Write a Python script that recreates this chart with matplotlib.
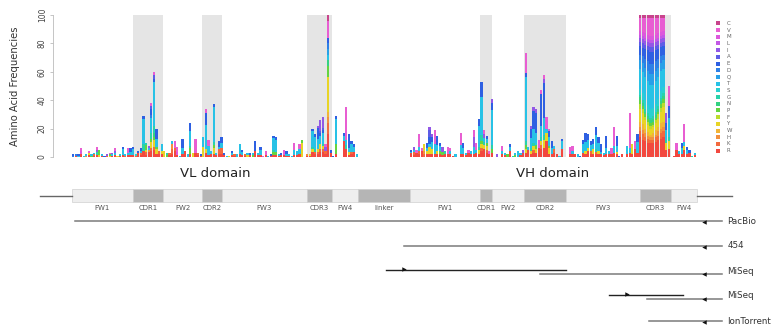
import re
import numpy as np
import matplotlib
matplotlib.use("Agg")
import matplotlib.pyplot as plt
from matplotlib.patches import Rectangle

# ---------------- data ----------------
# stacking order bottom -> top (legend shows it top -> bottom)
residues = ["R", "K", "H", "W", "Y", "F", "P", "N", "G", "S",
            "T", "Q", "D", "E", "A", "I", "L", "M", "V", "C"]
residue_colors = ["#f2483f", "#f26a3e", "#f2903e", "#f2b436", "#e8d426",
                  "#bcdc2c", "#64d440", "#34d282", "#28d2aa", "#28d0d0",
                  "#28c2e6", "#28a0e8", "#2e80e6", "#2e60e2", "#5e5ce6",
                  "#9258e6", "#c258e6", "#dc58dc", "#e85ed2", "#c8448c"]

# VL domain: total frequency per position and composition (residue + weight)
vl_heights = [2, 2, 2, 6, 1, 2, 4, 2, 3, 7, 5, 2, 1, 2, 3, 3, 6, 1, 2, 7, 2, 6, 6,
              7, 2, 4, 6, 29, 10, 8, 38, 60, 20, 4, 9,
              4, 3, 3, 11, 11, 7, 1, 13, 4, 2, 24, 3, 13, 3, 2,
              14, 34, 12, 4, 37, 3, 11, 14,
              3, 1, 1, 4, 2, 2, 9, 5, 2, 3, 3, 3, 11, 3, 7, 1, 4, 1, 2, 15,
              14, 2, 3, 5, 4, 2, 1, 10, 4, 9, 12, 0,
              2, 2, 20, 16, 22, 26, 28, 9, 100, 5,
              1, 29, 0, 0, 17, 35, 16, 11, 9, 2]
vl_comp = ["ED", "RD", "TE", "RMV", "S", "HT", "RYV", "PT", "RKT", "RGIV",
           "YPP", "RT", "E", "KI", "YPV", "RTI", "RTIV", "Y", "RS", "RT3E",
           "KT", "RTV2", "RT2E2",
           "RT3E", "KS", "R2E", "RKTE", "R2G2T8E", "RKYP2G", "R2HTI",
           "R2KY2PG2T5E2DAV", "R2KY2PNG2T13EAV", "RY2PT3E4", "RK", "RYT2",
           "Y", "PG", "RK", "RK2H2T", "R2KV2", "RMV2", "T", "RT2E3", "R", "T",
           "RP2GT5E3", "Y", "RV4", "RK", "RE",
           "Y3T3", "RYT6E3V", "RT4V3", "RT", "RY2PGT12E", "RT", "RK2TE2", "RK2T2E2",
           "RE", "T", "Y", "RTE", "RK", "T", "RT3", "RTE", "KR", "YT",
           "RE", "PT", "R2E3", "RT", "RT2E", "V", "RV2", "T", "RE", "RPGT5E",
           "RPT5E", "RT", "RE", "RV2", "RTE2", "RT", "T", "RT2V3", "RT2", "RT2V2",
           "Y4P", "",
           "RH", "RY", "R2YGT6E", "RKGT5E", "RKYT4E4I", "R2KY2T3EAI4",
           "R2KYGT4EAI4", "RKIV", "R4K2HWY6P2NTQEDV3C", "RE",
           "E", "RP3T8E", "", "", "R6T2E", "R2GTV8", "RYT2E6", "RKT3E", "R2T2E", "T"]

# VH domain
vh_heights = [5, 7, 5, 16, 6, 9, 10, 21, 16, 19,
              15, 10, 7, 4, 7, 6, 1, 2, 0, 17,
              10, 3, 5, 4, 19, 10, 27, 53, 19, 15,
              4, 41, 0, 2, 0, 8, 3, 2, 9, 1,
              3, 4, 3, 5, 73, 7, 22, 35, 34, 12,
              47, 58, 28, 20, 11, 8, 2, 1, 13, 0,
              0, 7, 8, 2, 2, 1, 12, 17, 16, 11,
              13, 21, 14, 9, 3, 15, 4, 6, 21, 15,
              1, 2, 0, 8, 31, 9, 11, 16, 100, 100,
              100, 100, 100, 100, 100, 100, 100, 100, 31, 50,
              0, 1, 10, 4, 10, 23, 7, 5, 1, 3]
vh_comp = ["R2TE", "RKTI", "RV", "RKTV4", "R2V", "KHY2", "RYTE2", "RY2TE2IA2", "RY2T3E2I", "RT3V4",
           "RYT2E3", "RPT2E", "RPI2", "RG", "RV2", "RTV", "R", "T", "", "RT3V4",
           "RT2E2", "RT", "RV", "RT", "RT2I3V2", "RTV2", "RYGT6E2", "R2KYPG2T12E5", "R2YGTIV", "RKYPTE",
           "RV", "RPGT9E2I", "", "I", "", "RTV2", "RT", "P", "R2TE", "G",
           "PT", "T2", "RT", "RI", "RYPGT16EV5", "R3T", "RYGT3E3I", "RKYGT4E5I", "RYPT3E5I", "R2V2",
           "R2KYGT3E8V", "R2Y2GT4E8IV", "R4Y2TV3", "RY2PT3E2V", "RT2E2", "RKT", "R", "T", "R3T3E", "",
           "", "RV2", "RTV2", "R", "T", "E", "RT2E", "RYT3E3", "R2YT3E2", "RKT2E",
           "RY2T2E2", "RKGT5E3", "RYT3E2", "RTE3", "RT", "RT2E4", "RT", "RV2", "RT2V5", "RYT2E4",
           "E", "R", "", "RT3", "RTV8", "RY3", "R2V2", "RT3E2",
           "R14K4H3W4Y9F3P3N2G2S4T14Q6D4E6A3I3L2M3V9C2",
           "R12K4H3W4Y8F3P2N2G2S5T15Q6D5E6A3I3L2M3V10C2",
           "R11K3H3W3Y6F2P2N2G2S6T16Q7D6E7A3I3L2M3V11C2",
           "R10K3H2W3Y5F2P2N2G2S6T17Q7D7E8A3I3L2M3V12C2",
           "R10K2H2W2Y4F2P2N2G2S6T17Q8D7E9A3I3L2M3V13C2",
           "R10K2H2W3Y4F2P2N2G2S6T16Q8D7E9A3I3L2M3V13C2",
           "R11K3H2W3Y5F2P2N2G2S6T16Q7D7E8A3I3L2M3V12C2",
           "R12K3H3W3Y6F3P2N2G2S5T15Q7D6E7A3I3L2M3V11C2",
           "R13K4H3W4Y8F3P3N2G2S5T14Q6D5E6A3I3L2M3V10C2",
           "R14K4H3W4Y10F3P3N2G2S4T13Q6D4E6A3I3L2M3V9C2",
           "R2Y2GT3E2I3", "R2Y2GT5E3V5",
           "", "R", "R2V2", "RT", "RT2E2", "R2YTV5", "RTE", "RE", "G", "RT"]
linker_length = 20

# scFv gene regions (in residue positions along the construct)
region_names = ["FW1", "CDR1", "FW2", "CDR2", "FW3", "CDR3", "FW4", "linker",
                "FW1", "CDR1", "FW2", "CDR2", "FW3", "CDR3", "FW4"]
region_starts = [0, 23.5, 35, 50, 57.7, 90.4, 100, 110,
                 130, 157, 161.5, 174, 190, 218.5, 230.4]
region_ends = [23.5, 35, 50, 57.7, 90.4, 100, 110, 130,
               157, 161.5, 174, 190, 218.5, 230.4, 240.4]
flank_left = (-12.3, 0)
flank_right = (240.4, 253.8)

# sequencing read coverage: label, forward read span, reverse read span
read_labels = ["PacBio", "454", "MiSeq", "MiSeq", "IonTorrent"]
read_forward = [None, None, (120.8, 190), (206.5, 235), None]
read_reverse = [(1.2, 250), (127.7, 250), (180, 250), (221, 250), (222, 250)]

# ---------------- layout ----------------
W, H = 773, 334
px_per_pos = 2.6
origin_px = 72
xlim = (-origin_px / px_per_pos, (W - origin_px) / px_per_pos)

plt.rcParams["font.family"] = ["DejaVu Sans"]
fig = plt.figure(figsize=(W / 100, H / 100), dpi=100)

ax = fig.add_axes([0, 1 - 157 / H, 1, 142 / H])
ax.set_xlim(*xlim)
ax.set_ylim(0, 100)


def parse(s):
    c = dict.fromkeys(residues, 0.0)
    for aa, n in re.findall(r"([A-Z])(\d*)", s):
        c[aa] += int(n) if n else 1
    return c


def stack_matrix(heights, comps):
    m = np.zeros((len(heights), len(residues)))
    for i, (h, s) in enumerate(zip(heights, comps)):
        c = parse(s)
        tot = sum(c.values())
        if tot > 0 and h > 0:
            m[i] = [h * c[r] / tot for r in residues]
    return m


vl_x = np.arange(len(vl_heights)) + 0.5
vh_x = len(vl_heights) + linker_length + np.arange(len(vh_heights)) + 0.5
xs = np.concatenate([vl_x, vh_x])
mat = np.vstack([stack_matrix(vl_heights, vl_comp), stack_matrix(vh_heights, vh_comp)])

# CDR shading
for name, s, e in zip(region_names, region_starts, region_ends):
    if name.startswith("CDR"):
        ax.axvspan(s, e, color="#e5e5e5", lw=0, zorder=0)

bottom = np.zeros(len(xs))
for k, r in enumerate(residues):
    ax.bar(xs, mat[:, k], bottom=bottom, width=0.9, color=residue_colors[k],
           linewidth=0, zorder=2)
    bottom += mat[:, k]

for sp in ["top", "right", "bottom"]:
    ax.spines[sp].set_visible(False)
ax.spines["left"].set_position(("data", (53 - origin_px) / px_per_pos))
ax.spines["left"].set_bounds(0, 100)
ax.spines["left"].set_color("#bbbbbb")
ax.spines["left"].set_linewidth(0.6)
ax.set_xticks([])
ax.set_yticks([0, 20, 40, 60, 80, 100])
ax.tick_params(axis="y", labelsize=5.5, labelcolor="#444444", color="#bbbbbb",
               length=2.5, width=0.6, pad=2)
for lab in ax.get_yticklabels():
    lab.set_rotation(90)
    lab.set_va("center")
fig.text(15 / W, 1 - 86 / H, "Amino Acid Frequencies", rotation=90,
         ha="center", va="center", fontsize=7.2, color="#333333")

vl_mid = len(vl_heights) / 2
vh_mid = len(vl_heights) + linker_length + len(vh_heights) / 2
ax.text(vl_mid, -11.3, "VL domain", ha="center", va="center", fontsize=9.5,
        color="#222222", clip_on=False)
ax.text(vh_mid, -11.3, "VH domain", ha="center", va="center", fontsize=9.5,
        color="#222222", clip_on=False)

# legend
lax = fig.add_axes([710 / W, 1 - 156 / H, 30 / W, 138 / H])
lax.set_xlim(0, 1)
lax.set_ylim(-0.8, len(residues) - 0.2)
lax.axis("off")
for k, r in enumerate(residues):
    lax.scatter([0.27], [k], marker="s", s=7, color=residue_colors[k], linewidths=0)
    lax.text(0.55, k, r, fontsize=4, color="#666666", va="center", ha="left")

# ---------------- schematic ----------------
bx = fig.add_axes([0, 0, 1, 150 / H])
bx.set_xlim(*xlim)
bx.set_ylim(5.52, -0.48)
bx.axis("off")

bx.plot(flank_left, [0, 0], color="#666666", lw=1.0)
bx.plot(flank_right, [0, 0], color="#666666", lw=1.0)
for name, s, e in zip(region_names, region_starts, region_ends):
    dark = name.startswith("CDR") or name == "linker"
    bx.add_patch(Rectangle((s, -0.28), e - s, 0.52,
                           facecolor="#b5b5b5" if dark else "#eeeeee",
                           edgecolor="#d0d0d0", lw=0.5))
    bx.text((s + e) / 2, 0.46, name, ha="center", va="center", fontsize=5,
            color="#555555")

for row, (lab, fwd, rev) in enumerate(zip(read_labels, read_forward, read_reverse), start=1):
    if fwd is not None:
        yf, yr = row - 0.06, row + 0.1
        bx.plot(fwd, [yf, yf], color="#222222", lw=1.0)
        bx.plot([fwd[0] + 6.8], [yf - 0.02], marker=">", markersize=3.2,
                color="#111111", markeredgewidth=0)
    else:
        yr = row
    bx.plot(rev, [yr, yr], color="#7a7a7a", lw=1.1)
    bx.plot([rev[1] - 7], [yr + 0.02], marker="<", markersize=3.2,
            color="#111111", markeredgewidth=0)
    bx.text(rev[1] + 2, row, lab, ha="left", va="center", fontsize=6.3,
            color="#333333")

fig.savefig("out.png", dpi=100)
